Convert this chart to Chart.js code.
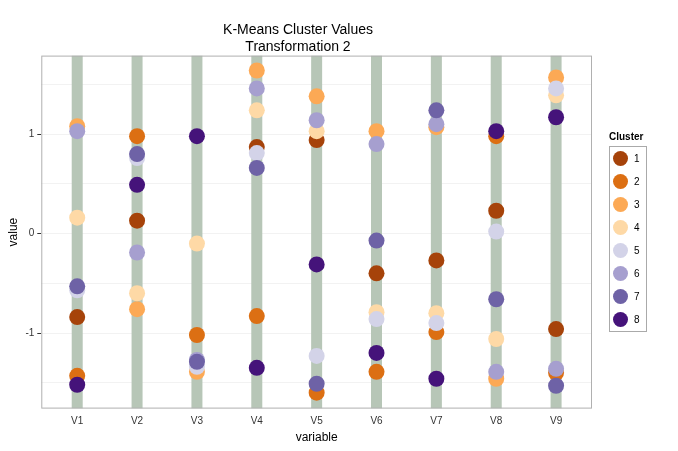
<!DOCTYPE html>
<html><head><meta charset="utf-8">
<script src="https://cdn.jsdelivr.net/npm/chart.js@4"></script>
<style>
body{margin:0;background:#fff;font-family:"Liberation Sans",Arial,sans-serif}
#wrap{position:relative;width:678px;height:451px}
#leg{position:absolute;left:609px;top:131px;font-size:10px;color:#000}
#leg .t{font-weight:bold;margin-bottom:4px}
#leg .box{border:1px solid #aaa;width:36px}
#leg .r{height:23px;display:flex;align-items:center}
#leg .d{width:15px;height:15px;border-radius:50%;margin-left:3px;margin-right:6px}
</style></head><body>
<div id="wrap"><canvas id="c" width="678" height="451"></canvas>
<div id="leg"><div class="t">Cluster</div><div class="box" id="lb"></div></div></div>
<script>
const variables=["V1","V2","V3","V4","V5","V6","V7","V8","V9"];
const clusters=["1","2","3","4","5","6","7","8"];
const colors=["#a6430a","#dc6f13","#fca955","#fed9a6","#d3d3e8","#a69fcf","#6e62a6","#45137a"];
const c1=[-0.84,0.13,null,0.87,0.94,-0.40,-0.27,0.23,-0.96];
const c2=[-1.43,0.98,-1.02,-0.83,-1.60,-1.39,-0.99,0.98,-1.40];
const c3=[1.08,-0.76,-1.39,1.64,1.38,1.03,1.07,-1.46,1.57];
const c4=[0.16,-0.60,-0.10,1.24,1.03,-0.79,-0.80,-1.06,1.39];
const c5=[-0.57,0.76,-1.34,0.81,-1.23,-0.86,-0.90,0.02,1.46];
const c6=[1.03,-0.19,-1.27,1.46,1.14,0.90,1.10,-1.39,-1.36];
const c7=[-0.53,0.80,-1.29,0.66,-1.51,-0.07,1.24,-0.66,-1.53];
const c8=[-1.52,0.49,0.98,-1.35,-0.31,-1.20,-1.46,1.03,1.17];
const series=[c1,c2,c3,c4,c5,c6,c7,c8];
const yMin=-1.76,yMax=1.79;
const datasets=[];
variables.forEach((v,i)=>datasets.push({type:'line',order:20,data:[{x:i+1,y:yMin},{x:i+1,y:yMax}],borderColor:'#b7c6b7',borderWidth:11,pointRadius:0,borderCapStyle:'butt'}));
series.forEach((s,k)=>datasets.push({type:'line',order:9-k,showLine:false,data:s.map((y,i)=>({x:i+1,y})).filter(p=>p.y!==null),pointRadius:8,pointBackgroundColor:colors[k],pointBorderWidth:0,borderColor:colors[k]}));
const frame={id:'frame',afterDraw(ch){const a=ch.chartArea,g=ch.ctx;g.save();g.strokeStyle='#b0b0b0';g.lineWidth=1;g.strokeRect(a.left+.5,a.top+.5,a.width-1,a.height-1);g.restore();}};
new Chart(document.getElementById('c'),{data:{datasets},plugins:[frame],options:{responsive:false,animation:false,
layout:{padding:{left:4,right:86,top:6,bottom:6}},
plugins:{legend:{display:false},tooltip:{enabled:false},title:{display:true,text:['K-Means Cluster Values','Transformation 2'],color:'#000',font:{size:14,weight:'normal',family:'Liberation Sans'},padding:{top:16,bottom:0},lineHeight:1.1}},
scales:{x:{type:'linear',min:0.4,max:9.6,afterBuildTicks(s){s.ticks=variables.map((v,i)=>({value:i+1}));},ticks:{callback:(v)=>variables[v-1],color:'#333',font:{size:10},autoSkip:false,maxRotation:0},grid:{display:false,drawTicks:true,tickLength:4,tickColor:'#333'},border:{display:false},title:{display:true,text:'variable',color:'#000',font:{size:12},padding:0}},
y:{min:yMin,max:yMax,afterBuildTicks(s){s.ticks=[-1.5,-1,-0.5,0,0.5,1,1.5].map(v=>({value:v}));},ticks:{callback:(v)=>Number.isInteger(v)?String(v):'',color:'#333',font:{size:10}},grid:{color:'#f2f2f2',tickColor:(c)=>Number.isInteger(c.tick.value)?'#333':'rgba(0,0,0,0)',tickLength:4},border:{display:false},title:{display:true,text:'value',color:'#000',font:{size:12},padding:2}}}}});
const lb=document.getElementById('lb');
clusters.forEach((c,k)=>{lb.innerHTML+=`<div class="r"><div class="d" style="background:${colors[k]}"></div>${c}</div>`;});
</script></body></html>
